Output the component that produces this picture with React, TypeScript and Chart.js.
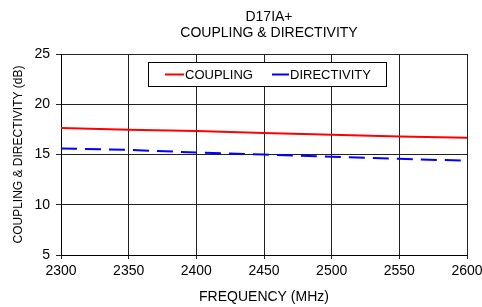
import React, { useEffect, useRef } from "react";
import { Chart, registerables } from "chart.js";

Chart.register(...registerables);

const frequencies = [2300, 2350, 2400, 2450, 2500, 2550, 2600];
const coupling = [17.63, 17.46, 17.33, 17.13, 16.96, 16.8, 16.66];
const directivity = [15.6, 15.46, 15.2, 15.0, 14.77, 14.57, 14.38];
const titleLines = ["D17IA+", "COUPLING & DIRECTIVITY"];
const seriesNames = ["COUPLING", "DIRECTIVITY"];

const FONT = "'Liberation Sans', Arial, sans-serif";

const chartTitle = {
  id: "chartTitle",
  afterDraw(chart: any) {
    const { ctx, chartArea } = chart;
    const cx = (chartArea.left + chartArea.right) / 2 + 5;
    ctx.save();
    ctx.font = `14px ${FONT}`;
    ctx.fillStyle = "#000";
    ctx.textAlign = "center";
    ctx.textBaseline = "middle";
    titleLines.forEach((t, i) => ctx.fillText(t, cx, 17 + i * 16.5));
    ctx.restore();
  },
};

const boxLegend = {
  id: "boxLegend",
  afterDraw(chart: any) {
    const { ctx, chartArea } = chart;
    const left = chartArea.left + 87;
    const top = chartArea.top + 8;
    const w = 238;
    const h = 24;
    ctx.save();
    ctx.fillStyle = "#fff";
    ctx.fillRect(left, top, w, h);
    ctx.strokeStyle = "#000";
    ctx.lineWidth = 1;
    ctx.strokeRect(left + 0.5, top + 0.5, w, h);
    const cy = top + 12.5;
    ctx.font = `13px ${FONT}`;
    ctx.textBaseline = "middle";
    ctx.fillStyle = "#000";
    const items = [
      { x: left + 17, len: 19, color: chart.data.datasets[0].borderColor, text: chart.data.datasets[0].label },
      { x: left + 124, len: 17, color: chart.data.datasets[1].borderColor, text: chart.data.datasets[1].label },
    ];
    items.forEach((it) => {
      ctx.strokeStyle = it.color;
      ctx.lineWidth = 2;
      ctx.beginPath();
      ctx.moveTo(it.x, cy);
      ctx.lineTo(it.x + it.len, cy);
      ctx.stroke();
      ctx.fillText(it.text, it.x + it.len + 1, cy + 0.5);
    });
    ctx.restore();
  },
};

export default function App() {
  const ref = useRef<HTMLCanvasElement>(null);
  useEffect(() => {
    document.body.style.margin = "0";
    const chart = new Chart(ref.current as HTMLCanvasElement, {
      type: "line",
      data: {
        datasets: [
          {
            label: seriesNames[0],
            data: frequencies.map((f, i) => ({ x: f, y: coupling[i] })),
            borderColor: "#ff0000",
            borderWidth: 2,
            pointRadius: 0,
            fill: false,
          },
          {
            label: seriesNames[1],
            data: frequencies.map((f, i) => ({ x: f, y: directivity[i] })),
            borderColor: "#0000ff",
            borderWidth: 2,
            borderDash: [16, 8],
            pointRadius: 0,
            fill: false,
          },
        ],
      },
      options: {
        responsive: false,
        animation: false,
        layout: { padding: { left: 0, right: 15, top: 54, bottom: 0 } },
        plugins: {
          legend: { display: false },
          tooltip: { enabled: false },
          title: { display: false },
        },
        scales: {
          x: {
            type: "linear",
            min: 2300,
            max: 2600,
            afterFit: (s: any) => {
              s.height = 52;
              s.paddingRight = 0;
              s.paddingLeft = 0;
            },
            ticks: {
              stepSize: 50,
              color: "#000",
              padding: 4,
              font: { family: FONT, size: 14 },
              maxRotation: 0,
              callback: (v: any) => String(v),
            },
            grid: { color: "#222", lineWidth: 1, tickLength: 4 },
            border: { color: "#000" },
            title: {
              display: true,
              text: "FREQUENCY (MHz)",
              color: "#000",
              font: { family: FONT, size: 14 },
              padding: { top: 4, bottom: 1 },
            },
          },
          y: {
            min: 5,
            max: 25,
            afterFit: (s: any) => {
              s.width = 61;
            },
            ticks: {
              stepSize: 5,
              color: "#000",
              padding: 6,
              font: { family: FONT, size: 14 },
            },
            grid: { color: "#222", lineWidth: 1, tickLength: 5 },
            border: { color: "#000" },
            title: {
              display: true,
              text: "COUPLING & DIRECTIVITY (dB)",
              color: "#000",
              font: { family: FONT, size: 12 },
              padding: { top: 11, bottom: 0 },
            },
          },
        },
      },
      plugins: [chartTitle, boxLegend],
    });
    return () => chart.destroy();
  }, []);
  return (
    <div style={{ width: 482, height: 307, position: "relative" }}>
      <canvas ref={ref} width={482} height={307} />
    </div>
  );
}
